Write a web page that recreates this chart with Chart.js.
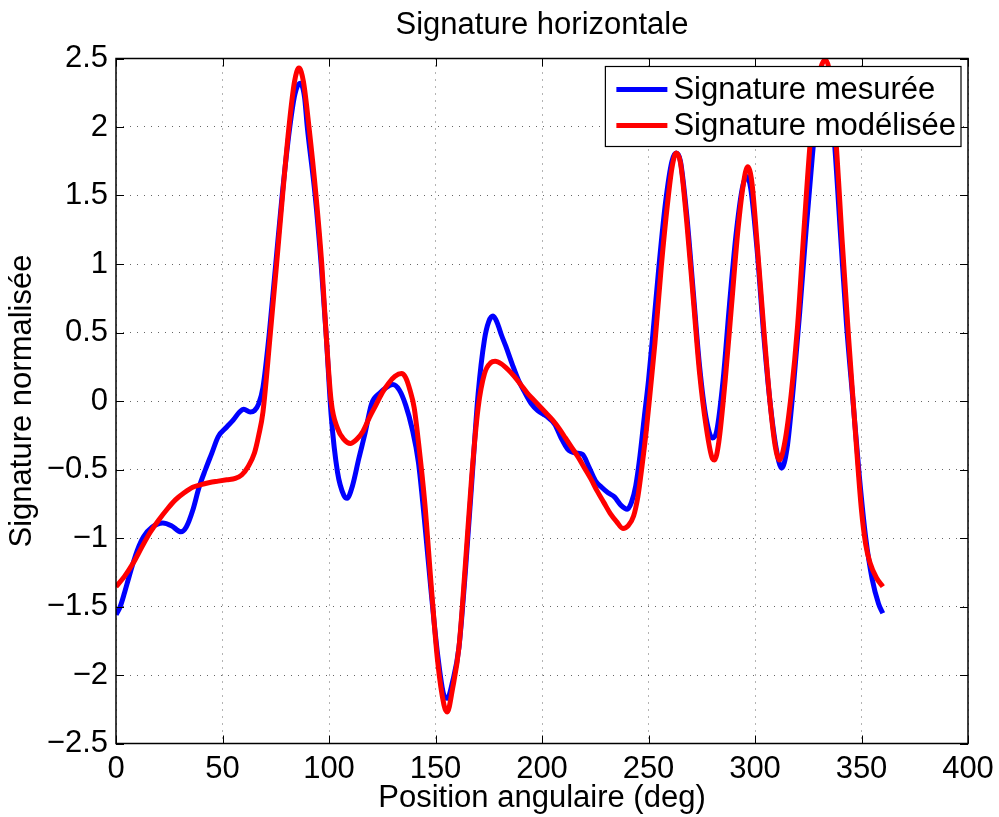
<!DOCTYPE html>
<html>
<head>
<meta charset="utf-8">
<script src="https://cdn.jsdelivr.net/npm/chart.js@4/dist/chart.umd.min.js"></script>
<style>
html,body{margin:0;padding:0;background:#fff;}
canvas{display:block;}
</style>
</head>
<body>
<canvas id="c" width="999" height="817"></canvas>
<script>
// ---- Data ----
const chartTitle = "Signature horizontale";
const xAxisTitle = "Position angulaire (deg)";
const yAxisTitle = "Signature normalisée";
const seriesNames = ["Signature mesurée", "Signature modélisée"];

const xTicks = [0, 50, 100, 150, 200, 250, 300, 350, 400];
const yTicks = [-2.5, -2, -1.5, -1, -0.5, 0, 0.5, 1, 1.5, 2, 2.5];

// measured signature (blue)
const measuredX = [0,2,4,6,8,10,13,17,22,26,30.5,33,36,39,42,45,48,52,55,58,60,63,65,67,69,72,75,78,81.6,84,86.4,88.5,89.8,93.5,96.3,98.6,101,104,107,108.5,111,114,117,120,124,127,130,133,136,139,142,145,148,151,154,155.5,158,161,164,167,170,173,175,177,179,181,183,186,189,192,195,198,202,206,209,212,216,219,222,225,228,231,234,237,240,242,244,246,248,250,252,255,258,261,263,265,268,271,274,277,280,282,285,288,291,294,296,298,301,304,307,310,312.5,315,318,321,324,327,330,332,334,337,340,343,346,349,352,355,358,360];
const measuredY = [-1.56,-1.50,-1.40,-1.29,-1.185,-1.09,-0.99,-0.92,-0.89,-0.91,-0.955,-0.92,-0.80,-0.63,-0.50,-0.38,-0.26,-0.19,-0.14,-0.08,-0.06,-0.08,-0.07,-0.02,0.10,0.50,1.00,1.50,2.00,2.24,2.32,2.22,2.00,1.50,1.00,0.50,-0.10,-0.52,-0.69,-0.71,-0.62,-0.42,-0.23,-0.02,0.06,0.10,0.12,0.08,-0.03,-0.20,-0.45,-0.90,-1.40,-1.85,-2.15,-2.17,-2.05,-1.80,-1.25,-0.60,0.05,0.45,0.58,0.62,0.57,0.48,0.40,0.27,0.15,0.06,-0.02,-0.07,-0.11,-0.17,-0.27,-0.35,-0.38,-0.39,-0.48,-0.58,-0.63,-0.67,-0.70,-0.76,-0.79,-0.74,-0.62,-0.40,-0.12,0.15,0.48,1.00,1.45,1.75,1.81,1.75,1.35,0.80,0.25,-0.12,-0.27,-0.22,0.15,0.70,1.20,1.55,1.64,1.55,1.10,0.50,0.00,-0.35,-0.49,-0.35,0.10,0.65,1.25,1.80,2.25,2.40,2.35,1.95,1.25,0.55,0.00,-0.55,-1.00,-1.30,-1.48,-1.55];

// modelled signature (red)
const modelX = [0,4,8,12,16,20,24,28,32,36,40,44,48,52,56,59,62,65,67,69,72.5,75.4,78.2,81.2,83.8,85.9,88,90.6,93.9,96.6,98.6,101,104,107,110,113,116,119,122,125,128,131,134,136,138,140,142,145,148,151,154,155.5,158,161,164,167,170,173,176,178,181,184,187,190,193,196,199,202,205,208,211,214,217,220,223,226,229,232,235,238,240.5,243,245,247,249,251,253,256,259,261,263,265,268,271,274,277,280,281,283,286,289,292,294.5,296.5,298.5,301,304,307,309.5,311.5,314,317,320,323,326,329,331.5,333,335,338,341,344,347,350,352,354,357,360];
const modelY = [-1.355,-1.28,-1.185,-1.07,-0.96,-0.87,-0.79,-0.72,-0.67,-0.63,-0.61,-0.595,-0.585,-0.575,-0.565,-0.54,-0.48,-0.38,-0.25,-0.08,0.50,1.00,1.50,2.00,2.33,2.43,2.33,2.00,1.50,1.00,0.50,0.00,-0.20,-0.28,-0.31,-0.28,-0.22,-0.12,-0.03,0.06,0.13,0.18,0.20,0.17,0.08,-0.05,-0.30,-0.75,-1.35,-1.90,-2.22,-2.27,-2.10,-1.80,-1.20,-0.55,-0.05,0.20,0.28,0.29,0.27,0.23,0.18,0.12,0.06,0.01,-0.04,-0.09,-0.14,-0.20,-0.27,-0.34,-0.41,-0.49,-0.57,-0.66,-0.74,-0.82,-0.88,-0.93,-0.91,-0.84,-0.70,-0.47,-0.21,0.10,0.42,0.98,1.45,1.70,1.81,1.74,1.30,0.75,0.20,-0.18,-0.42,-0.43,-0.30,0.15,0.70,1.25,1.58,1.71,1.60,1.15,0.55,0.00,-0.33,-0.43,-0.30,0.05,0.55,1.25,1.90,2.30,2.46,2.49,2.40,1.90,1.15,0.45,-0.20,-0.80,-1.05,-1.18,-1.29,-1.355];

const seriesColors = ["#0000ff", "#ff0000"];

// ---- build ----
const FONT = '"Liberation Sans", Arial, Helvetica, sans-serif';
const FS = 31;
const toPts = (xs, ys) => xs.map((x, i) => ({x: x, y: ys[i]}));

const frame = {
  id: 'frame',
  afterDatasetsDraw(chart) {
    const {ctx, chartArea: a, scales} = chart;
    ctx.save();
    // inward tick marks
    ctx.strokeStyle = '#000';
    ctx.lineWidth = 1;
    const L = 8;
    ctx.beginPath();
    xTicks.forEach(v => {
      const px = Math.round(scales.x.getPixelForValue(v)) + 0.5;
      ctx.moveTo(px, a.bottom); ctx.lineTo(px, a.bottom - L);
      ctx.moveTo(px, a.top); ctx.lineTo(px, a.top + L);
    });
    yTicks.forEach(v => {
      const py = Math.round(scales.y.getPixelForValue(v)) + 0.5;
      ctx.moveTo(a.left, py); ctx.lineTo(a.left + L, py);
      ctx.moveTo(a.right, py); ctx.lineTo(a.right - L, py);
    });
    ctx.stroke();
    // box
    ctx.strokeStyle = '#000';
    ctx.lineWidth = 1.5;
    ctx.strokeRect(a.left, a.top, a.right - a.left, a.bottom - a.top);

    // title, centred on the plot area
    ctx.fillStyle = '#000';
    ctx.font = FS + 'px ' + FONT;
    ctx.textAlign = 'center';
    ctx.textBaseline = 'alphabetic';
    ctx.fillText(chartTitle, (a.left + a.right) / 2, 33.5);

    // legend
    let tw = 0;
    chart.data.datasets.forEach(d => { tw = Math.max(tw, ctx.measureText(d.label).width); });
    const bw = 68 + tw + 5, bh = 80;
    const bx = a.right - 7 - bw, by = a.top + 8;
    ctx.fillStyle = '#fff';
    ctx.fillRect(bx, by, bw, bh);
    ctx.strokeStyle = '#000';
    ctx.lineWidth = 1.2;
    ctx.strokeRect(bx, by, bw, bh);
    chart.data.datasets.forEach((d, i) => {
      const ly = by + 23 + i * 36;
      ctx.strokeStyle = d.borderColor;
      ctx.lineWidth = 5;
      ctx.beginPath();
      ctx.moveTo(bx + 11, ly); ctx.lineTo(bx + 62, ly);
      ctx.stroke();
      ctx.fillStyle = '#000';
      ctx.textBaseline = 'middle';
      ctx.textAlign = 'left';
      ctx.fillText(d.label, bx + 68, ly + 1);
    });
    ctx.restore();
  }
};

const fmt = v => String(v).replace('-', '\u2212');

new Chart(document.getElementById('c'), {
  type: 'line',
  data: {
    datasets: [
      {label: seriesNames[0], data: toPts(measuredX, measuredY), borderColor: seriesColors[0], borderWidth: 5, pointRadius: 0, cubicInterpolationMode: 'monotone', fill: false, order: 1},
      {label: seriesNames[1], data: toPts(modelX, modelY), borderColor: seriesColors[1], borderWidth: 5, pointRadius: 0, cubicInterpolationMode: 'monotone', fill: false, order: 0}
    ]
  },
  options: {
    responsive: false,
    animation: false,
    events: [],
    layout: {padding: {left: 0, right: 31, top: 58.5, bottom: 0}},
    plugins: {
      legend: {display: false},
      tooltip: {enabled: false},
      title: {display: false}
    },
    scales: {
      x: {
        type: 'linear', min: 0, max: 400,
        afterBuildTicks: s => { s.ticks = xTicks.map(v => ({value: v})); },
        afterFit: s => { s.height = 73.5; s.paddingLeft = 0; s.paddingRight = 0; },
        ticks: {color: '#000', font: {family: FONT, size: FS}, padding: 7, maxRotation: 0, callback: v => fmt(v)},
        grid: {drawTicks: false, color: 'rgba(0,0,0,0.6)', lineWidth: 1},
        border: {display: false, dash: [1, 6]},
        title: {display: true, text: xAxisTitle, color: '#000', font: {family: FONT, size: FS, lineHeight: 1}, padding: {top: 0, bottom: 3}}
      },
      y: {
        type: 'linear', min: -2.5, max: 2.5,
        afterBuildTicks: s => { s.ticks = yTicks.map(v => ({value: v})); },
        afterFit: s => { s.width = 116; s.paddingTop = 0; s.paddingBottom = 0; },
        ticks: {color: '#000', font: {family: FONT, size: FS}, padding: 8, callback: v => fmt(v)},
        grid: {drawTicks: false, color: 'rgba(0,0,0,0.6)', lineWidth: 1},
        border: {display: false, dash: [1, 6]},
        title: {display: true, text: yAxisTitle, color: '#000', font: {family: FONT, size: FS, lineHeight: 1}, padding: {top: 7, bottom: 0}}
      }
    }
  },
  plugins: [frame]
});
</script>
</body>
</html>
